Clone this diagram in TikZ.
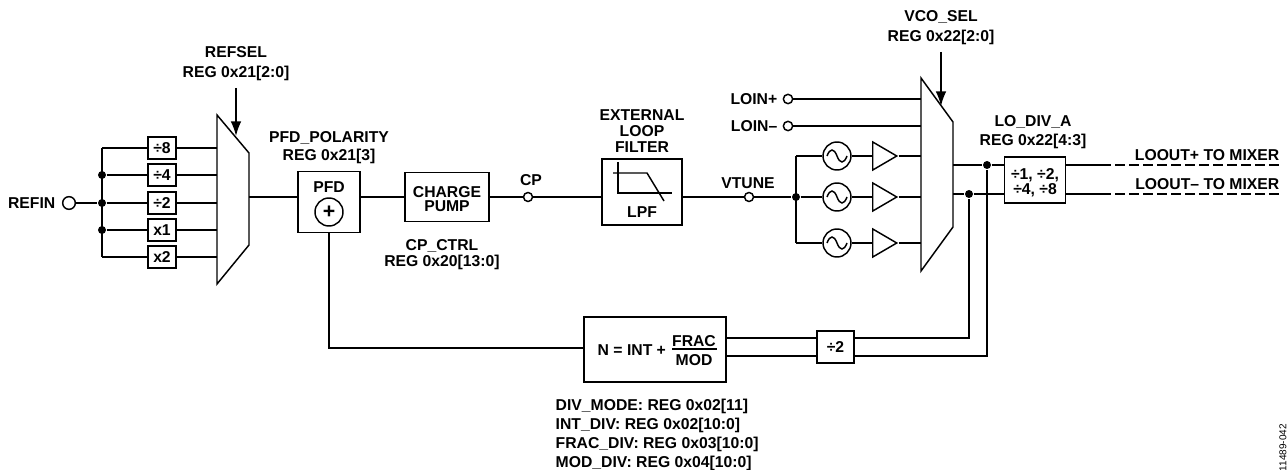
\documentclass[tikz,border=0pt]{standalone}
\usepackage{fontspec}
\setmainfont{Liberation Sans}
\usetikzlibrary{arrows.meta,shapes.geometric}
\newcommand\lblfont[1]{\fontsize{11.8}{#1}\selectfont\bfseries}
\tikzset{
  lbl/.style={inner sep=0pt,align=center,font=\lblfont{#1}},
  lbl/.default=14,
  blk/.style={draw,fill=white,inner sep=0pt,align=center,font=\lblfont{14}},
  divbox/.style={blk,minimum width=21pt,minimum height=16.5pt},
  term/.style={circle,draw,fill=white,inner sep=0pt,minimum size=#1},
  term/.default=7pt,
  dot/.style={circle,fill=black,inner sep=0pt,minimum size=6pt},
  osc/.style={circle,draw,fill=white,inner sep=0pt,minimum size=21pt,path picture={
    \draw[shift={(path picture bounding box.center)}] (-10,0) .. controls (-7,-8) and (-3,-8) .. (0,0) .. controls (3,8) and (7,8) .. (10,0);}},
  buf/.style={isosceles triangle,isosceles triangle stretches,draw,fill=white,inner sep=0pt,minimum width=21pt,minimum height=18pt,anchor=west},
  sel/.style={-{Latex[length=11pt,width=8pt]}}
}
\begin{document}
\begin{tikzpicture}[x=.75pt,y=-.75pt,line width=1.1pt]
\useasboundingbox (0,0) rectangle (1288,470);
\coordinate (muxain) at (217,197);\coordinate (muxaout) at (249,197);
\coordinate (muxbin) at (921,197);\coordinate (muxbout) at (953,197);
\node[lbl=15] (refsel) at (236,64) {REFSEL\\REG 0x21[2:0]};
\node[lbl,anchor=east] (refinlbl) at (56,203) {REFIN};
\node[term=9.5pt] (refin) at (69,203) {};
\node[dot] (ja) at (102,175) {};
\node[dot] (jb) at (102,203) {};
\node[dot] (jc) at (102,230) {};
\coordinate (jt) at (102,148);\coordinate (ju) at (102,257);
\node[divbox] (d8) at (162,148) {÷8};
\node[divbox] (d4) at (162,175) {÷4};
\node[divbox] (d2) at (162,203) {÷2};
\node[divbox] (m1) at (162,230) {x1};
\node[divbox] (m2) at (162,257) {x2};
\draw (refin)--(jb);\draw (jt)--(ju);
\draw (jt)--(d8);\draw (ja)--(d4);\draw (jb)--(d2);\draw (jc)--(m1);\draw (ju)--(m2);
\draw (d8)--(d8-|muxain);\draw (d4)--(d4-|muxain);\draw (d2)--(d2-|muxain);\draw (m1)--(m1-|muxain);\draw (m2)--(m2-|muxain);
\draw[fill=white] (217,115)--(249,153)--(249,245)--(217,284)--cycle;
\coordinate (refseltip) at (236,136);
\draw[sel] (refsel.south-|refseltip)+(0,6)--(refseltip);
\node[lbl=13.5] (pfdlbl) at (329,148) {PFD\_POLARITY\\REG 0x21[3]};
\node[blk,minimum width=46.5pt,minimum height=46pt] (pfd) at (329,202) {};
\node[lbl] (pfdtxt) at (329,187) {PFD};
\node[circle,draw,inner sep=0pt,minimum size=21pt,font=\fontsize{16}{16}\selectfont\bfseries] (sum) at (329,212) {+};
\node[blk,minimum width=63pt,minimum height=37pt] (cpump) at (447,197) {};
\node[lbl=10.5] (cpumptxt) at (447,199) {CHARGE\\PUMP};
\node[lbl=11.5] (cpctrl) at (442,254.5) {CP\_CTRL\\REG 0x20[13:0]};
\node[term=6.75pt] (cp) at (528,197) {};
\node[lbl] (cplbl) at (531,180) {CP};
\node[blk,minimum width=60pt,minimum height=49.5pt] (lpf) at (642,192) {};
\node[lbl=12] (extlbl) at (642,131) {EXTERNAL\\LOOP\\FILTER};
\node[lbl] (lpftxt) at (642,212) {LPF};
\draw (618,162)--(618,193)--(672,193);
\draw (613,173)--(647,173)--(664,201);
\node[term=6.75pt] (vtune) at (749,197) {};
\node[lbl] (vtunelbl) at (748,183) {VTUNE};
\node[dot] (jv) at (796,197) {};
\coordinate (jvt) at (796,156);\coordinate (jvu) at (796,243);
\node[osc] (osca) at (837,156) {};
\node[osc] (oscb) at (837,197) {};
\node[osc] (oscc) at (837,243) {};
\node[buf] (bufa) at (872,156) {};
\node[buf] (bufb) at (872,197) {};
\node[buf] (bufc) at (872,243) {};
\draw (muxaout)--(muxaout-|pfd.west);
\draw (pfd.east|-cpump)--(cpump);\draw (cpump)--(cp);\draw (cp)--(cp-|lpf.west);
\draw (lpf.east|-vtune)--(vtune);\draw (vtune)--(jv);\draw (jvt)--(jvu);
\draw (jvt)--(osca);\draw (jv)--(oscb);\draw (jvu)--(oscc);
\draw (osca)--(bufa);\draw (oscb)--(bufb);\draw (oscc)--(bufc);
\draw (bufa.apex)--(bufa.apex-|muxbin);\draw (bufb.apex)--(bufb.apex-|muxbin);\draw (bufc.apex)--(bufc.apex-|muxbin);
\node[lbl,anchor=east] (loinplbl) at (778,99) {LOIN+};
\node[lbl,anchor=east] (loinmlbl) at (778,126) {LOIN–};
\node[term=7pt] (loinp) at (788,99) {};
\node[term=7pt] (loinm) at (788,126) {};
\draw (loinp)--(loinp-|muxbin);\draw (loinm)--(loinm-|muxbin);
\draw[fill=white] (921,78)--(953,122)--(953,227)--(921,271)--cycle;
\node[lbl=15] (vcosel) at (941,28) {VCO\_SEL\\REG 0x22[2:0]};
\coordinate (vcoseltip) at (941,106);
\draw[sel] (vcosel.south-|vcoseltip)+(0,6)--(vcoseltip);
\node[lbl=14.25] (lodivlbl) at (1033,132.5) {LO\_DIV\_A\\REG 0x22[4:3]};
\node[blk,minimum width=46pt,minimum height=34.5pt] (lodiv) at (1035,180) {};
\node[lbl=11.25] (lodivtxt) at (1035,182.5) {÷1, ÷2,\\÷4, ÷8};
\coordinate (outa) at (1101,165);\coordinate (outb) at (1101,194);
\coordinate (enda) at (1281,165);\coordinate (endb) at (1281,194);
\node[dot] (jp) at (987,165) {};
\node[dot] (jm) at (969,194) {};
\draw (jp-|muxbout)--(jp);\draw (jp)--(jp-|lodiv.west);\draw (jm-|muxbout)--(jm);\draw (jm)--(jm-|lodiv.west);
\draw (jp-|lodiv.east)--(outa);\draw (jm-|lodiv.east)--(outb);
\draw[dash pattern=on 7.5pt off 3pt] (outa)--(enda);\draw[dash pattern=on 7.5pt off 3pt] (outb)--(endb);
\node[lbl,anchor=east] (outplbl) at (1280,155) {LOOUT+ TO MIXER};
\node[lbl,anchor=east] (outmlbl) at (1280,184) {LOOUT– TO MIXER};
\node[blk,minimum width=106.5pt,minimum height=48.75pt] (ndiv) at (655,349.5) {};
\node[lbl,anchor=west] (ntxt) at (597,350) {N = INT +};
\node[lbl] (frac) at (694,341) {FRAC};
\node[lbl] (mod) at (694,360) {MOD};
\draw (672,349)--(717,349);
\node[divbox,minimum width=27.75pt,minimum height=24pt] (half) at (835.5,347) {÷2};
\coordinate (cta) at (726,338);\coordinate (ctb) at (726,356);
\coordinate (cna) at (969,338);\coordinate (cnb) at (987,356);
\draw (cta)--(cta-|half.west);\draw (ctb)--(ctb-|half.west);
\draw (cta-|half.east)--(cna)--(jm);\draw (ctb-|half.east)--(cnb)--(jp);
\coordinate (pfdn) at (329,348);
\draw (pfd.south-|sum)--(pfdn)--(ndiv.west|-pfdn);
\node[lbl=14.25,align=left,anchor=north west] (reglist) at (555,398) {DIV\_MODE: REG 0x02[11]\\INT\_DIV: REG 0x02[10:0]\\FRAC\_DIV: REG 0x03[10:0]\\MOD\_DIV: REG 0x04[10:0]};
\node[rotate=90,inner sep=0pt,anchor=west,font=\fontsize{7.5}{7.5}\selectfont] (figid) at (1283,472) {11489-042};
\end{tikzpicture}
\end{document}
